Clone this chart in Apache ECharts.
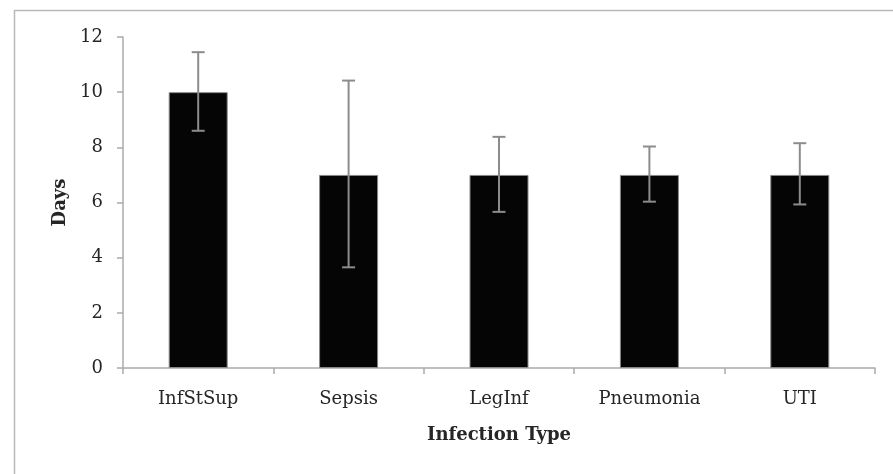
<!DOCTYPE html>
<html>
<head>
<meta charset="utf-8">
<script src="https://cdn.jsdelivr.net/npm/echarts@6/dist/echarts.min.js"></script>
<style>
html, body { margin: 0; padding: 0; background: #fff; }
#chart { width: 893px; height: 474px; }
</style>
</head>
<body>
<div id="chart"></div>
<script>
// infection types on the x axis
const categories = ['InfStSup', 'Sepsis', 'LegInf', 'Pneumonia', 'UTI'];
// mean days
const meanDays = [10, 7, 7, 7, 7];
// error bar ends
const errHigh = [11.45, 10.42, 8.38, 8.03, 8.15];
const errLow = [8.6, 3.65, 5.66, 6.03, 5.93];
const yTicks = [0, 2, 4, 6, 8, 10, 12];

const fontFam = 'DejaVu Serif';
const textColor = '#262626';
const axisGray = '#ababab';

const myChart = echarts.init(document.getElementById('chart'));

const errData = categories.map((c, i) => [i, errLow[i], errHigh[i]]);

const option = {
	backgroundColor: '#fff',
	animation: false,
	grid: { left: 123, right: 18, top: 37, bottom: 106 },
	graphic: [{
		type: 'rect',
		left: 12, top: 8,
		shape: { width: 920, height: 500 },
		style: { fill: 'none', stroke: '#b8b8b8', lineWidth: 1.5 },
		silent: true
	}],
	xAxis: {
		type: 'category',
		data: categories,
		name: 'Infection Type',
		nameLocation: 'middle',
		nameGap: 58,
		nameTextStyle: { fontFamily: fontFam, fontWeight: 'bold', fontSize: 18, color: textColor },
		axisLine: { lineStyle: { color: axisGray, width: 1.5 } },
		axisTick: { show: true, length: 6, lineStyle: { color: axisGray, width: 1.5 } },
		axisLabel: { fontFamily: fontFam, fontSize: 18, color: textColor, margin: 22 }
	},
	yAxis: {
		type: 'value',
		min: yTicks[0],
		max: yTicks[yTicks.length - 1],
		interval: 2,
		name: 'Days',
		nameLocation: 'middle',
		nameGap: 50,
		nameTextStyle: { fontFamily: fontFam, fontWeight: 'bold', fontSize: 18, color: textColor },
		axisLine: { show: true, lineStyle: { color: axisGray, width: 1.5 } },
		axisTick: { show: true, length: 6, lineStyle: { color: axisGray, width: 1.5 } },
		axisLabel: { fontFamily: fontFam, fontSize: 18, color: textColor, margin: 20 },
		splitLine: { show: false }
	},
	series: [
		{
			type: 'bar',
			data: meanDays,
			barWidth: 59,
			itemStyle: { color: '#050505', borderColor: '#888', borderWidth: 1 }
		},
		{
			type: 'custom',
			data: errData,
			z: 10,
			renderItem: function (params, api) {
				const x = api.value(0);
				const lo = api.coord([x, api.value(1)]);
				const hi = api.coord([x, api.value(2)]);
				const half = 6.5;
				const st = { stroke: '#8c8c8c', lineWidth: 2 };
				return {
					type: 'group',
					children: [
						{ type: 'line', shape: { x1: hi[0], y1: hi[1], x2: lo[0], y2: lo[1] }, style: st },
						{ type: 'line', shape: { x1: hi[0] - half, y1: hi[1], x2: hi[0] + half, y2: hi[1] }, style: st },
						{ type: 'line', shape: { x1: lo[0] - half, y1: lo[1], x2: lo[0] + half, y2: lo[1] }, style: st }
					]
				};
			}
		}
	]
};
myChart.setOption(option);
</script>
</body>
</html>
